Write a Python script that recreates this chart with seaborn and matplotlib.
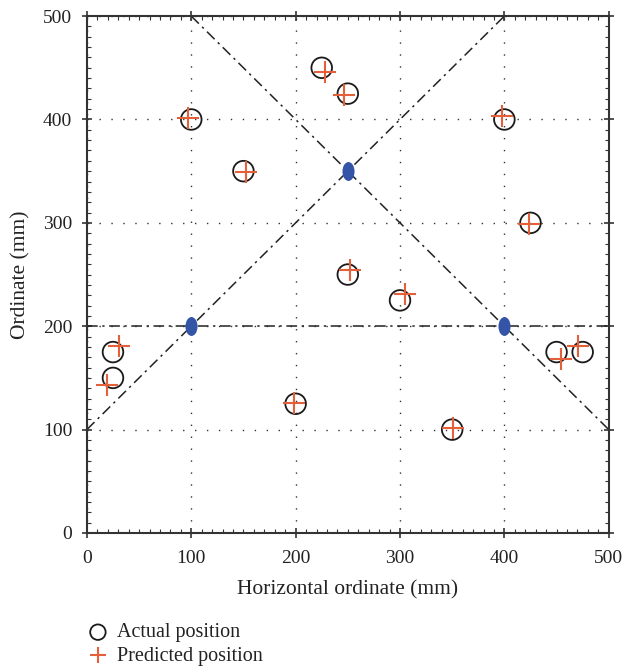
import numpy as np
import pandas as pd
import matplotlib
matplotlib.use("Agg")
import matplotlib.pyplot as plt
import seaborn as sns
from matplotlib.path import Path
from matplotlib.transforms import Affine2D
from matplotlib.ticker import MultipleLocator

# ---- data ----
actual_x = [225, 250, 100, 150, 400, 425, 250, 300, 25, 25, 200, 350, 450, 475]
actual_y = [450, 425, 400, 350, 400, 300, 250, 225, 175, 150, 125, 100, 175, 175]
pred_x = [228, 246, 97, 152, 398, 424, 252, 305, 31, 19, 198, 351, 454, 471]
pred_y = [446, 424, 401, 349, 403, 299, 254, 231, 181, 143, 126, 102, 168, 181]
anchor_x = [100, 250, 400]
anchor_y = [200, 350, 200]
line1_x = [0, 400]
line1_y = [100, 500]
line2_x = [100, 500]
line2_y = [500, 100]
line3_x = [0, 500]
line3_y = [200, 200]
ticks = [0, 100, 200, 300, 400, 500]
x_label = "Horizontal ordinate (mm)"
y_label = "Ordinate (mm)"
labels = ["Actual position", "Predicted position"]

df_act = pd.DataFrame({"x": actual_x, "y": actual_y})
df_pred = pd.DataFrame({"x": pred_x, "y": pred_y})
df_anc = pd.DataFrame({"x": anchor_x, "y": anchor_y})

sns.set_style("ticks")
plt.rcParams["font.family"] = ["Liberation Serif", "DejaVu Serif"]

fig = plt.figure(figsize=(6.25, 6.71), dpi=100)
ax = fig.add_axes([0.139, 0.2057, 0.835, 0.7703])

dash = (7, 3, 1.5, 3)
for lx, ly in [(line1_x, line1_y), (line2_x, line2_y), (line3_x, line3_y)]:
    ax.plot(lx, ly, color="#222222", lw=1.1, dashes=dash, zorder=2)

ell = Path.unit_circle().transformed(Affine2D().scale(0.64, 1.0))
sns.scatterplot(data=df_anc, x="x", y="y", marker=ell, s=185, color="#3454A8",
                edgecolor="#3454A8", linewidth=0, ax=ax, zorder=4)

sns.scatterplot(data=df_act, x="x", y="y", marker="o", s=220, facecolor="none",
                edgecolor="#1a1a1a", linewidth=1.3, ax=ax, zorder=3, label=labels[0])
sns.scatterplot(data=df_pred, x="x", y="y", marker="+", s=240, color="#E4603A",
                linewidth=1.5, ax=ax, zorder=5, label=labels[1])

ax.set_xlim(0, 500)
ax.set_ylim(0, 500)
ax.set_xticks(ticks)
ax.set_yticks(ticks)
ax.xaxis.set_minor_locator(MultipleLocator(10))
ax.yaxis.set_minor_locator(MultipleLocator(10))
ax.tick_params(which="both", top=True, right=True, colors="#333333",
               labelcolor="#222222", labelsize=14)
ax.tick_params(which="major", direction="inout", length=7, width=1.2)
ax.tick_params(which="minor", direction="in", length=3, width=0.8)
ax.tick_params(axis="x", which="major", pad=9)
ax.tick_params(axis="y", which="major", pad=7)
for sp in ax.spines.values():
    sp.set_color("#333333")
    sp.set_linewidth(1.5)
ax.grid(True, which="major", linestyle=(0, (1, 7.6)), color="#333333", lw=1.0)

ax.set_xlabel(x_label, fontsize=15.5, color="#222222", labelpad=9)
ax.set_ylabel(y_label, fontsize=15.5, color="#222222", labelpad=9)

h, l = ax.get_legend_handles_labels()
if ax.legend_:
    ax.legend_.remove()
leg = fig.legend(h, l, loc="upper left", bbox_to_anchor=(0.118, 0.083),
                 frameon=False, fontsize=14.5, handletextpad=0.15, labelspacing=0.2,
                 borderaxespad=0, markerscale=0.75, handlelength=1.6)
for t in leg.get_texts():
    t.set_color("#222222")

fig.savefig("out.png", dpi=100)
